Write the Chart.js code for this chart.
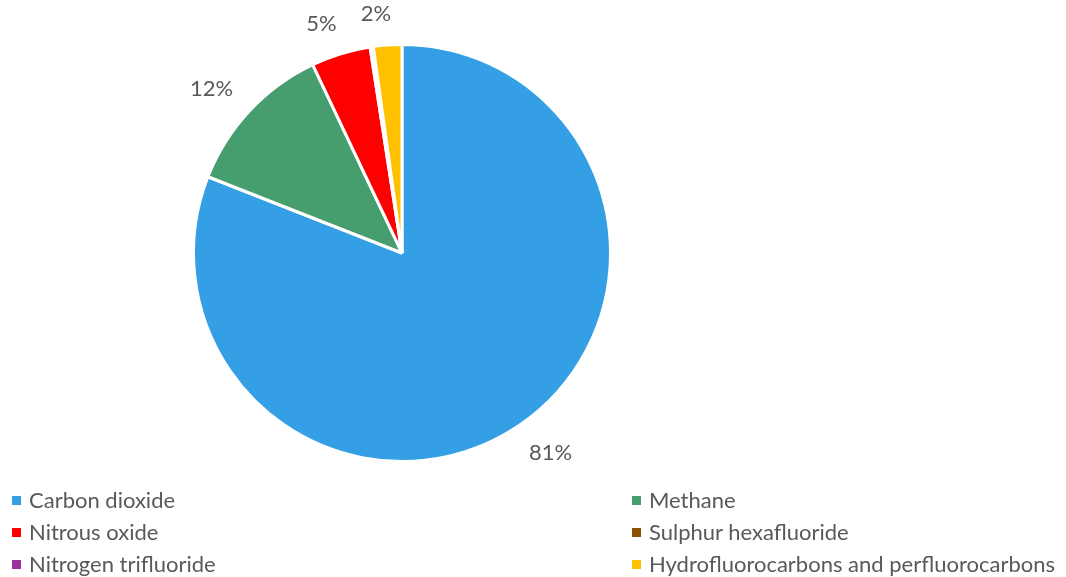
<!DOCTYPE html>
<html>
<head>
<meta charset="utf-8">
<script src="https://cdn.jsdelivr.net/npm/chart.js@4"></script>
<style>
  body { margin: 0; background: #fff; }
  #wrap { position: relative; width: 1066px; height: 577px; }
  #legend { position: absolute; left: 0; top: 0; font-family: Lato, sans-serif; font-size: 22px; color: #595959; }
  .item { position: absolute; white-space: nowrap; line-height: 26px; }
  .box { position: absolute; width: 9px; height: 9px; top: 9px; left: -17px; }
</style>
</head>
<body>
<div id="wrap">
  <canvas id="chart" width="1066" height="577"></canvas>
  <div id="legend"></div>
</div>
<script>
const gases = ['Carbon dioxide', 'Methane', 'Nitrous oxide', 'Sulphur hexafluoride', 'Nitrogen trifluoride', 'Hydrofluorocarbons and perfluorocarbons'];
const shares = [81.0, 12.0, 4.6, 0.2, 0.05, 2.2];
const colors = ['#349fe5', '#469d6e', '#ff0000', '#8b5200', '#9b3299', '#ffc000'];

// legend in two columns, like the original
const legend = document.getElementById('legend');
const colX = [29, 649];
const rowY = [487, 519, 551];
gases.forEach((g, i) => {
  const div = document.createElement('div');
  div.className = 'item';
  div.style.left = colX[i % 2] + 'px';
  div.style.top = rowY[Math.floor(i / 2)] + 'px';
  div.innerHTML = `<span class="box" style="background:${colors[i]}"></span>${g}`;
  legend.appendChild(div);
});

// percent labels outside the slices
const outsideLabels = {
  id: 'outsideLabels',
  afterDatasetsDraw(chart) {
    const ctx = chart.ctx;
    const meta = chart.getDatasetMeta(0);
    ctx.save();
    ctx.font = '22px Lato, sans-serif';
    ctx.fillStyle = '#595959';
    ctx.textAlign = 'center';
    ctx.textBaseline = 'middle';
    meta.data.forEach((arc, i) => {
      if (shares[i] < 1) return;
      const mid = (arc.startAngle + arc.endAngle) / 2 - 0.04;
      const dx = Math.cos(mid), dy = Math.sin(mid);
      const txt = Math.round(shares[i]) + '%';
      const w = ctx.measureText(txt).width;
      const ext = Math.abs(dx) * w / 2 + Math.abs(dy) * 10;
      const d = arc.outerRadius + 20 + ext;
      ctx.fillText(txt, arc.x + dx * d, arc.y + dy * d);
    });
    ctx.restore();
  }
};

new Chart(document.getElementById('chart'), {
  type: 'pie',
  data: {
    labels: gases,
    datasets: [{
      data: shares,
      backgroundColor: colors,
      borderColor: '#ffffff',
      borderWidth: 3
    }]
  },
  options: {
    responsive: false,
    animation: false,
    layout: { padding: { left: 192, right: 454, top: 43, bottom: 114 } },
    plugins: {
      legend: { display: false },
      tooltip: { enabled: false }
    }
  },
  plugins: [outsideLabels]
});
</script>
</body>
</html>
